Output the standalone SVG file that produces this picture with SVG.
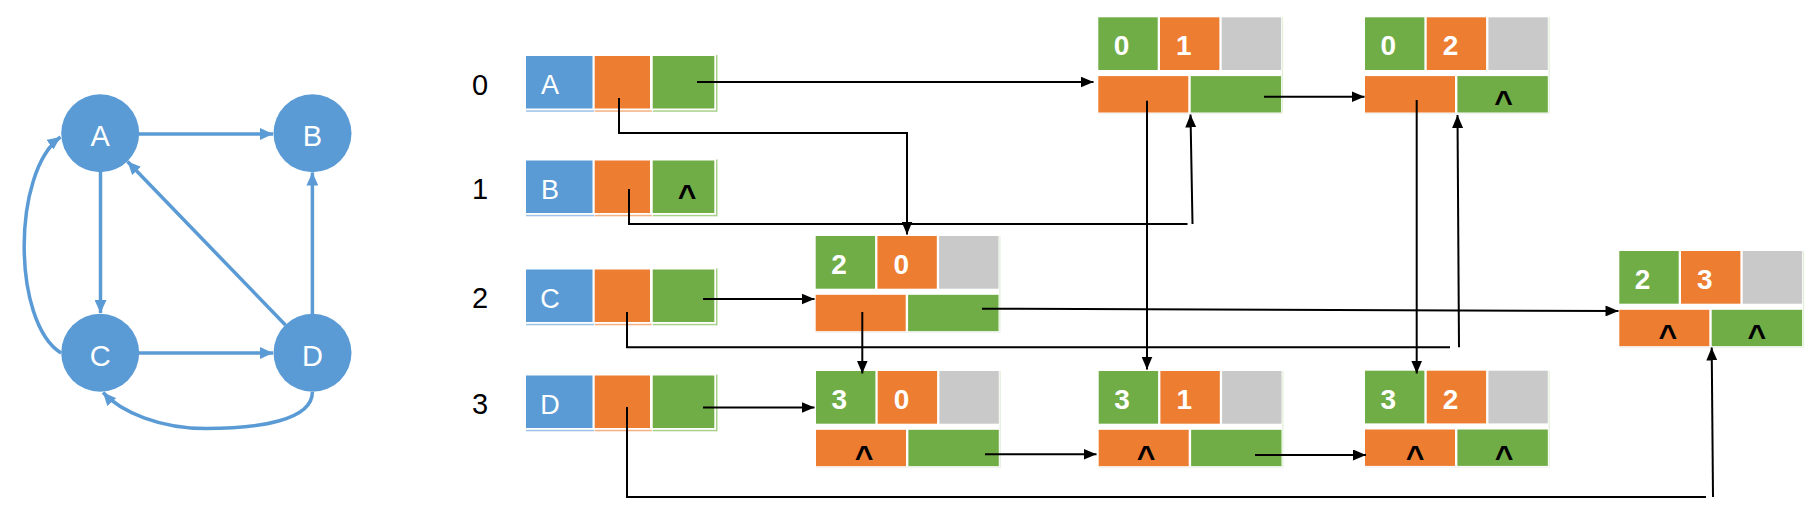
<svg xmlns="http://www.w3.org/2000/svg" xmlns:xlink="http://www.w3.org/1999/xlink" width="1818" height="508" viewBox="0 0 1818 508">
<defs>
<style>
.blue{fill:#5B9BD5}.org{fill:#ED7D31}.grn{fill:#70AD47}.gry{fill:#C9C9C9}
.ublue{fill:#9DC3E6}.uorg{fill:#F4B183}.ugrn{fill:#A9D18E}
text{font-family:"Liberation Sans",Arial,sans-serif}
.idx{font-size:29px;fill:#000;text-anchor:middle}
.let{font-size:27px;fill:#fff;text-anchor:middle}
.gl{font-size:29px;fill:#fff;text-anchor:middle}
.num{font-size:28px;font-weight:bold;fill:#fff;text-anchor:middle}
.car{font-size:32px;font-weight:bold;fill:#000;text-anchor:middle}
.conn{stroke:#000;stroke-width:2;fill:none}
.gedge{stroke:#5B9BD5;stroke-width:3.5;fill:none}
</style>
<marker id="ba" markerUnits="userSpaceOnUse" markerWidth="14" markerHeight="12" refX="13" refY="6" orient="auto"><path d="M0,0 L13,6 L0,12 z" fill="#5B9BD5"/></marker>
<marker id="ka" markerUnits="userSpaceOnUse" markerWidth="13" markerHeight="11" refX="13" refY="5.5" orient="auto"><path d="M0,0 L13,5.5 L0,11 z" fill="#000"/></marker>
<g id="hdr">
<rect class="blue" x="0" y="0" width="66.5" height="52.5"/>
<rect class="org" x="68.7" y="0" width="55.3" height="52.5"/>
<rect class="grn" x="126.7" y="0" width="61.6" height="52.5"/>
<rect class="ublue" x="0" y="54.3" width="68" height="1.5"/>
<rect class="uorg" x="68.7" y="54.3" width="57" height="1.5"/>
<rect class="ugrn" x="126.7" y="54.3" width="64" height="1.5"/>
<rect class="ugrn" x="190" y="-1" width="1.5" height="56.8"/>
</g>
<g id="cells">
<rect class="grn" x="0" y="0" width="59.4" height="52.7"/>
<rect class="org" x="61.7" y="0" width="59.4" height="52.7"/>
<rect class="gry" x="123.4" y="0" width="59.4" height="52.7"/>
<rect class="org" x="0" y="58.8" width="90" height="36.4"/>
<rect class="grn" x="92.4" y="58.8" width="90.4" height="36.4"/>
<rect x="183.6" y="0" width="1.2" height="96" fill="#E2EFD9"/>
<rect x="0" y="95.8" width="184.8" height="1.2" fill="#F2F2F2"/>
</g>
</defs>
<rect width="1818" height="508" fill="#fff"/>

<g id="graph-edges">
<path class="gedge" d="M139,134 H273" marker-end="url(#ba)"/>
<path class="gedge" d="M100.5,172 V313" marker-end="url(#ba)"/>
<path class="gedge" d="M312.4,314 V172.5" marker-end="url(#ba)"/>
<path class="gedge" d="M139,353 H273" marker-end="url(#ba)"/>
<path class="gedge" d="M285.4,325 L127.5,161.5" marker-end="url(#ba)"/>
<path class="gedge" d="M61,353 C12,322 12,172 60.5,137" marker-end="url(#ba)"/>
<path class="gedge" d="M312.4,392 C312.4,420 260,428.5 206,428.5 C160,428.5 121,412 103,392.5" marker-end="url(#ba)"/>
</g>
<g id="vA"><circle class="blue" cx="100.2" cy="133.3" r="39"/><text class="gl" x="100.2" y="146">A</text></g>
<g id="vB"><circle class="blue" cx="312.5" cy="133.3" r="39"/><text class="gl" x="312.5" y="146">B</text></g>
<g id="vC"><circle class="blue" cx="100.2" cy="352.8" r="39"/><text class="gl" x="100.2" y="365.5">C</text></g>
<g id="vD"><circle class="blue" cx="312.5" cy="352.8" r="39"/><text class="gl" x="312.5" y="365.5">D</text></g>

<g id="row0"><text class="idx" x="480" y="95">0</text><use xlink:href="#hdr" x="526" y="56"/><text class="let" x="550" y="94">A</text></g>
<g id="row1"><text class="idx" x="480" y="199">1</text><use xlink:href="#hdr" x="526" y="160.5"/><text class="let" x="550" y="198.5">B</text><text class="car" x="687" y="207">^</text></g>
<g id="row2"><text class="idx" x="480" y="307.5">2</text><use xlink:href="#hdr" x="526" y="269.5"/><text class="let" x="550" y="307.5">C</text></g>
<g id="row3"><text class="idx" x="480" y="414">3</text><use xlink:href="#hdr" x="526" y="375.5"/><text class="let" x="550" y="413.5">D</text></g>

<g id="n01" transform="translate(1098.3,17.3)"><use xlink:href="#cells"/><text class="num" x="23.3" y="38">0</text><text class="num" x="85.5" y="38">1</text></g>
<g id="n02" transform="translate(1365,17.3)"><use xlink:href="#cells"/><text class="num" x="23.3" y="38">0</text><text class="num" x="85.5" y="38">2</text><text class="car" x="138.5" y="96">^</text></g>
<g id="n20" transform="translate(815.7,236)"><use xlink:href="#cells"/><text class="num" x="23.3" y="38">2</text><text class="num" x="85.5" y="38">0</text></g>
<g id="n23" transform="translate(1619.3,251)"><use xlink:href="#cells"/><text class="num" x="23.3" y="38">2</text><text class="num" x="85.5" y="38">3</text><text class="car" x="48.5" y="96">^</text><text class="car" x="137.5" y="96">^</text></g>
<g id="n30" transform="translate(816,371)"><use xlink:href="#cells"/><text class="num" x="23.3" y="38">3</text><text class="num" x="85.5" y="38">0</text><text class="car" x="48" y="97">^</text></g>
<g id="n31" transform="translate(1098.7,371)"><use xlink:href="#cells"/><text class="num" x="23.3" y="38">3</text><text class="num" x="85.5" y="38">1</text><text class="car" x="47.5" y="97">^</text></g>
<g id="n32" transform="translate(1365,370.7)"><use xlink:href="#cells"/><text class="num" x="23.3" y="38">3</text><text class="num" x="85.5" y="38">2</text><text class="car" x="50" y="97">^</text><text class="car" x="139" y="97">^</text></g>

<g id="connectors">
<path class="conn" d="M697,82 H1093.5" marker-end="url(#ka)"/>
<path class="conn" d="M619,98 V133 H907 V234.5" marker-end="url(#ka)"/>
<path class="conn" d="M629,189 V224 H1187.5"/>
<path class="conn" d="M1192.5,224 L1190.5,114.5" marker-end="url(#ka)"/>
<path class="conn" d="M703,299 H814.5" marker-end="url(#ka)"/>
<path class="conn" d="M627,312 V347.3 H1450"/>
<path class="conn" d="M1459,347.3 L1457.5,115" marker-end="url(#ka)"/>
<path class="conn" d="M703,407.5 H814.5" marker-end="url(#ka)"/>
<path class="conn" d="M627,407 V497 H1706"/>
<path class="conn" d="M1713,497 L1711.7,347.5" marker-end="url(#ka)"/>
<path class="conn" d="M1264,96.7 H1364.5" marker-end="url(#ka)"/>
<path class="conn" d="M1147,100.7 V369.5" marker-end="url(#ka)"/>
<path class="conn" d="M1416.7,100 V373.5" marker-end="url(#ka)"/>
<path class="conn" d="M862.3,312 V373.5" marker-end="url(#ka)"/>
<path class="conn" d="M982,308.7 L1618.5,311" marker-end="url(#ka)"/>
<path class="conn" d="M985,454.3 H1096.5" marker-end="url(#ka)"/>
<path class="conn" d="M1255,455 H1366" marker-end="url(#ka)"/>
</g>
</svg>
